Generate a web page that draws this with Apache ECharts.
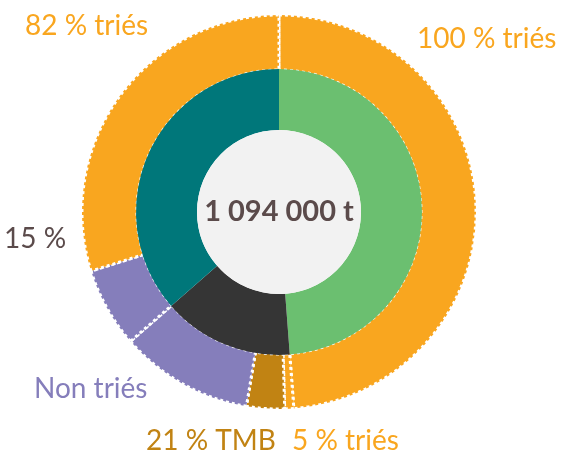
<!DOCTYPE html>
<html>
<head>
<meta charset="utf-8">
<script src="https://cdn.jsdelivr.net/npm/echarts@6/dist/echarts.min.js"></script>
<style>
html,body{margin:0;padding:0;background:#fff;}
#chart{width:563px;height:453px;}
</style>
</head>
<body>
<div id="chart"></div>
<script>
// Inner ring: share of total (%)
const innerCategories = ['Part A', 'Part B', 'Part C'];
const innerValues = [48.8, 14.8, 36.4];
const innerColors = ['#6BBF70', '#353535', '#00777A'];

// Outer ring: share (%) of the parent inner slice
const outerCategories = ['100 % triés', '5 % triés', '21 % TMB', 'Non triés', '15 %', '82 % triés'];
const outerParent = [0, 1, 1, 1, 2, 2];
const outerShares = [100, 5, 21, 74, 18, 82];
const outerColors = ['#F9A61F', '#F9A61F', '#C18313', '#857EBB', '#857EBB', '#F9A61F'];

const totalLabel = '1 094 000 t';

const chart = echarts.init(document.getElementById('chart'), null, {renderer: 'canvas'});
const FONT = 'Lato, "Open Sans", sans-serif';
const C = [279, 212];

const outerData = outerCategories.map((n, i) => ({
  name: n,
  value: innerValues[outerParent[i]] * outerShares[i] / 100,
  itemStyle: {color: outerColors[i]}
}));
const innerData = innerCategories.map((n, i) => ({
  name: n, value: innerValues[i], itemStyle: {color: innerColors[i]}
}));

function txt(text, x, y, color, size, weight, align) {
  return {
    type: 'text', x: x, y: y, silent: true,
    style: {text: text, fill: color, font: (weight || 'normal') + ' ' + size + 'px ' + FONT,
      textAlign: align || 'left', textVerticalAlign: 'middle'}
  };
}

chart.setOption({
  animation: false,
  series: [
    {
      type: 'pie', center: C, radius: [142, 197], startAngle: 90, clockwise: true,
      label: {show: false}, labelLine: {show: false}, silent: true,
      itemStyle: {borderColor: '#ffffff', borderWidth: 3, borderType: 'dotted'},
      data: outerData, z: 1
    },
    {
      type: 'pie', center: C, radius: [82, 143], startAngle: 90, clockwise: true,
      label: {show: false}, labelLine: {show: false}, silent: true,
      data: innerData, z: 2
    },
    {
      type: 'pie', center: C, radius: [0, 82], silent: true,
      label: {show: true, position: 'center', formatter: totalLabel,
        fontFamily: FONT, fontWeight: 'bold', fontSize: 29, color: '#5B4B4B'},
      labelLine: {show: false},
      data: [{name: 'total', value: 1, itemStyle: {color: '#F2F2F2'}}], z: 3
    }
  ],
  graphic: [
    txt('82 % triés', 25, 26, '#F9A61F', 28),
    txt('100 % triés', 417, 39, '#F9A61F', 28),
    txt('15 %', 4, 239, '#5B4B4B', 28),
    txt('Non triés', 34, 389, '#857EBB', 28),
    txt('21 % TMB', 146, 441, '#C18313', 28),
    txt('5 % triés', 292, 441, '#F9A61F', 28)
  ]
});
</script>
</body>
</html>
